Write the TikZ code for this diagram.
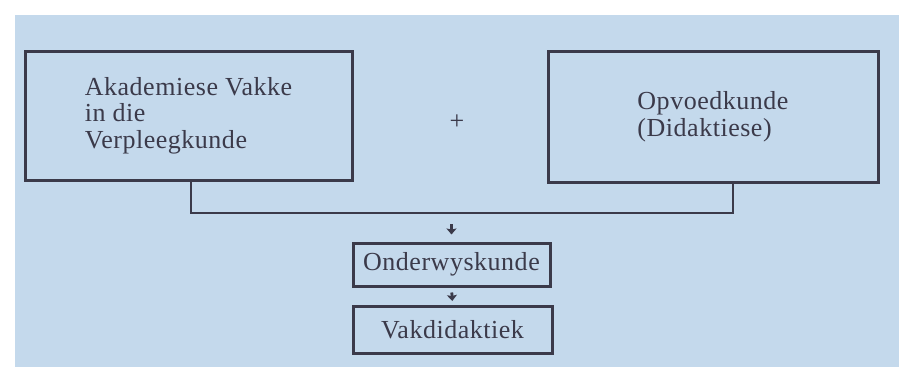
\documentclass[tikz,border=0pt]{standalone}
\usepackage{fontspec}
\setmainfont{Liberation Serif}[LetterSpace=2]
\usetikzlibrary{arrows.meta}
\definecolor{paperblue}{HTML}{C4D9EC}
\definecolor{ink}{HTML}{3B3A4A}
\tikzset{
  box/.style={draw=ink, line width=3pt, inner sep=0pt, text=ink,
    font=\fontsize{26}{26.5}\selectfont},
  link/.style={draw=ink, line width=2.8pt},
  downarrow/.style={draw=ink, line width=2.8pt,
    -{Stealth[length=6pt,width=10pt,inset=1pt]}}
}
\begin{document}
\begin{tikzpicture}[x=1pt,y=-1pt]
  \useasboundingbox (0,0) rectangle (899,367);
  \fill[white] (0,0) rectangle (899,367);
  \fill[paperblue] (15,15) rectangle (899,367);

  % the two source fields
  \node[box, minimum width=327pt, minimum height=129pt, align=left]
    (akad) at (188.5,115.5) {Akademiese Vakke\\in die\\Verpleegkunde};
  \node[box, minimum width=330pt, minimum height=131pt, align=left]
    (opv) at (713,116.5) {Opvoedkunde\\(Didaktiese)};
  \node[text=ink, font=\fontsize{26}{26}\selectfont] (plus) at (457,122) {+};

  % resulting chain
  \node[box, minimum width=197pt, minimum height=43pt]
    (onder) at (451.5,264.5) {Onderwyskunde};
  \node[box, minimum width=199pt, minimum height=47pt]
    (vak) at (452.5,330) {Vakdidaktiek};

  % bracket joining both fields
  \coordinate (jl) at ([xshift=2.5pt]akad.south |- 0,213);
  \coordinate (jr) at ([xshift=20pt]opv.south |- 0,213);
  \draw[link] ([xshift=2.5pt]akad.south) -- (jl) -- (jr) -- ([xshift=20pt]opv.south);
  \coordinate (jm) at (onder.north |- jl);

  \draw[downarrow, shorten <=11pt, shorten >=7pt] (jm) -- (onder.north);
  \draw[downarrow, shorten <=5pt, shorten >=4pt] (onder.south) -- (vak.north);
\end{tikzpicture}
\end{document}
